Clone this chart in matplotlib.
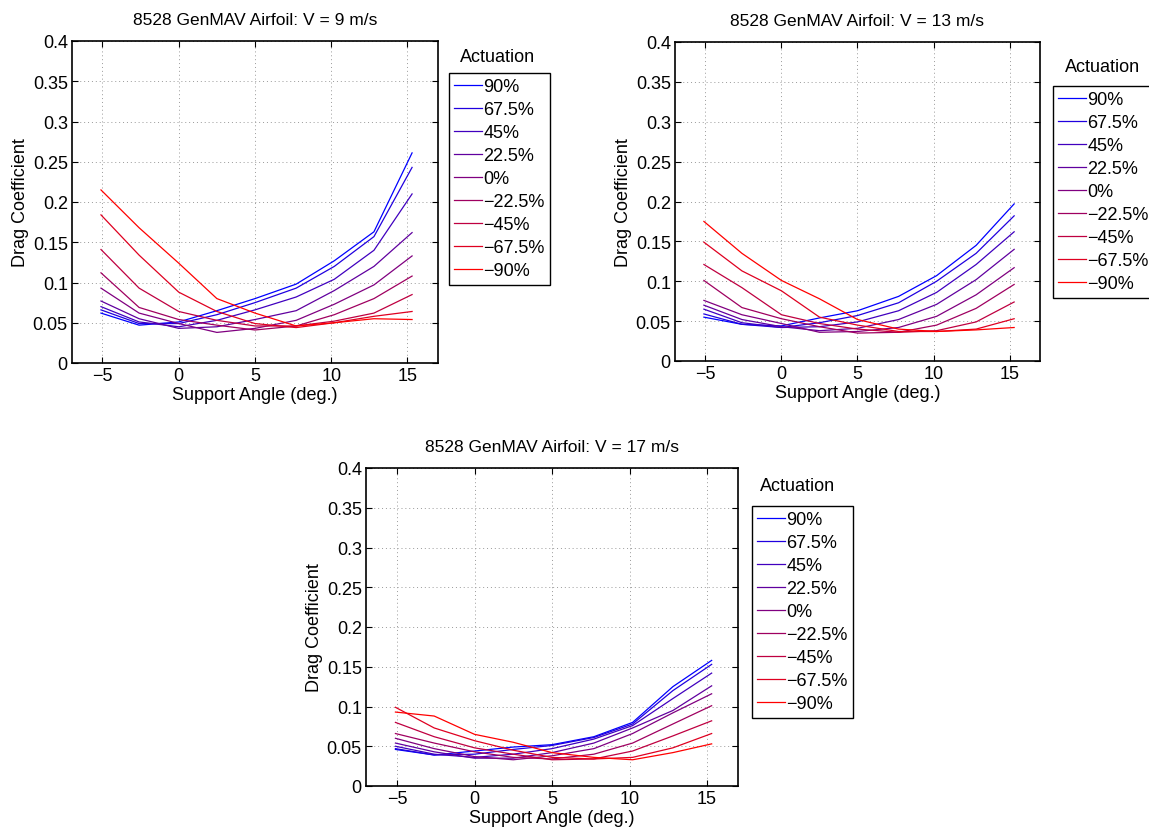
import matplotlib
matplotlib.use("Agg")
import matplotlib.pyplot as plt
import numpy as np

plt.rcParams['font.family'] = ['Liberation Sans', 'DejaVu Sans']
plt.rcParams['font.size'] = 13

angles = [-5.1, -2.6, 0.0, 2.5, 5.0, 7.7, 10.2, 12.8, 15.3]
actuation_labels = ['90%', '67.5%', '45%', '22.5%', '0%', '\u221222.5%', '\u221245%', '\u221267.5%', '\u221290%']
titles = ['8528 GenMAV Airfoil: V = 9 m/s', '8528 GenMAV Airfoil: V = 13 m/s', '8528 GenMAV Airfoil: V = 17 m/s']

cd_v9 = [
    [0.062, 0.047, 0.051, 0.065, 0.080, 0.098, 0.127, 0.163, 0.261],
    [0.066, 0.049, 0.049, 0.060, 0.075, 0.093, 0.120, 0.157, 0.243],
    [0.070, 0.051, 0.045, 0.053, 0.066, 0.082, 0.104, 0.140, 0.210],
    [0.077, 0.055, 0.043, 0.045, 0.054, 0.065, 0.090, 0.120, 0.162],
    [0.093, 0.062, 0.049, 0.038, 0.043, 0.053, 0.073, 0.097, 0.133],
    [0.112, 0.069, 0.054, 0.047, 0.041, 0.046, 0.060, 0.080, 0.108],
    [0.141, 0.093, 0.064, 0.053, 0.046, 0.046, 0.052, 0.062, 0.085],
    [0.184, 0.134, 0.088, 0.064, 0.049, 0.044, 0.050, 0.058, 0.064],
    [0.215, 0.168, 0.124, 0.080, 0.062, 0.046, 0.050, 0.055, 0.054],
]
cd_v13 = [
    [0.055, 0.046, 0.044, 0.054, 0.063, 0.081, 0.107, 0.145, 0.197],
    [0.059, 0.046, 0.042, 0.048, 0.057, 0.073, 0.100, 0.135, 0.182],
    [0.065, 0.048, 0.042, 0.043, 0.049, 0.063, 0.086, 0.121, 0.162],
    [0.070, 0.052, 0.043, 0.038, 0.041, 0.052, 0.071, 0.102, 0.140],
    [0.076, 0.058, 0.047, 0.036, 0.037, 0.042, 0.056, 0.083, 0.117],
    [0.101, 0.067, 0.053, 0.043, 0.035, 0.036, 0.045, 0.066, 0.096],
    [0.121, 0.092, 0.058, 0.047, 0.040, 0.036, 0.038, 0.049, 0.074],
    [0.149, 0.113, 0.088, 0.055, 0.045, 0.037, 0.037, 0.040, 0.053],
    [0.175, 0.135, 0.101, 0.078, 0.052, 0.040, 0.037, 0.039, 0.042],
]
cd_v17 = [
    [0.046, 0.039, 0.044, 0.049, 0.052, 0.062, 0.080, 0.125, 0.158],
    [0.047, 0.039, 0.040, 0.046, 0.051, 0.061, 0.078, 0.120, 0.153],
    [0.050, 0.040, 0.036, 0.040, 0.047, 0.059, 0.076, 0.110, 0.142],
    [0.054, 0.043, 0.035, 0.035, 0.042, 0.054, 0.073, 0.095, 0.126],
    [0.060, 0.047, 0.037, 0.033, 0.038, 0.047, 0.066, 0.092, 0.116],
    [0.066, 0.054, 0.043, 0.036, 0.034, 0.040, 0.054, 0.078, 0.101],
    [0.080, 0.062, 0.048, 0.040, 0.033, 0.034, 0.044, 0.063, 0.082],
    [0.099, 0.073, 0.057, 0.045, 0.036, 0.034, 0.036, 0.048, 0.066],
    [0.093, 0.088, 0.065, 0.055, 0.042, 0.036, 0.033, 0.042, 0.053],
]

datasets = [cd_v9, cd_v13, cd_v17]

fig = plt.figure(figsize=(11.49, 8.28), dpi=100)
W, H = 1149, 828

def rect(l, t, r, b):
    return [l / W, 1 - b / H, (r - l) / W, (b - t) / H]

axes_px = [(72, 42, 438, 364), (675, 43, 1040, 362), (366, 469, 738, 787)]
legend_px = [(449, 74), (1053, 87), (752, 507)]
legtitle_px = [(498, 57), (1103, 68), (798, 487)]

n = len(actuation_labels)
colors = [(i / (n - 1), 0.0, 1 - i / (n - 1)) for i in range(n)]

for k, (data, title) in enumerate(zip(datasets, titles)):
    ax = fig.add_axes(rect(*axes_px[k]))
    for i, series in enumerate(data):
        ax.plot(angles, series, color=colors[i], lw=0.9, label=actuation_labels[i])
    ax.set_xlim(-7, 17)
    ax.set_ylim(0, 0.4)
    ax.set_xticks([-5, 0, 5, 10, 15])
    ax.set_xticklabels(['\u22125', '0', '5', '10', '15'])
    yt = np.arange(0, 0.401, 0.05)
    ax.set_yticks(yt)
    ax.set_yticklabels(['0', '0.05', '0.1', '0.15', '0.2', '0.25', '0.3', '0.35', '0.4'])
    ax.grid(True, linestyle=(0, (1, 3)), color='#999999', lw=0.7)
    ax.tick_params(direction='in', length=4, width=0.8, top=True, right=True, labelsize=13, pad=3)
    for s in ax.spines.values():
        s.set_linewidth(1.2)
    ax.set_title(title, fontsize=12.5, pad=12)
    ax.set_xlabel('Support Angle (deg.)', fontsize=13, labelpad=1)
    ax.set_ylabel('Drag Coefficient', fontsize=13, labelpad=3)
    lx, ly = legend_px[k]
    leg = ax.legend(loc='upper left', bbox_to_anchor=(lx / W, 1 - ly / H), bbox_transform=fig.transFigure,
                    frameon=True, fancybox=False, edgecolor='black', framealpha=1, fontsize=13,
                    handlelength=1.5, handletextpad=0.1, labelspacing=0.33, borderpad=0.3, borderaxespad=0)
    leg.get_frame().set_linewidth(1.0)
    tx, ty = legtitle_px[k]
    fig.text(tx / W, 1 - ty / H, 'Actuation', ha='center', va='center', fontsize=13)

fig.savefig('out.png', dpi=100)
